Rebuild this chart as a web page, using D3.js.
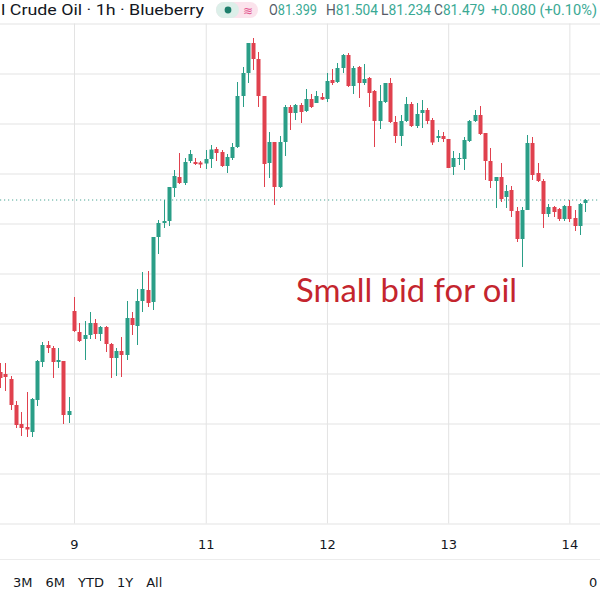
<!DOCTYPE html>
<html><head><meta charset="utf-8">
<script src="https://cdn.jsdelivr.net/npm/d3@7"></script>
<style>html,body{margin:0;padding:0;background:#fff;overflow:hidden}</style>
</head><body><svg id="c" width="600" height="600"></svg>
<script>
// ---- data (hourly candles) ----
const opens = [80.806,80.798,80.778,80.674,80.598,80.586,80.566,80.694,80.846,80.914,
 80.902,80.846,80.850,80.634,81.050,80.966,80.938,80.954,81.002,80.958,
 80.986,80.918,80.862,80.890,80.874,81.022,80.990,81.090,81.134,81.086,
 81.346,81.402,81.410,81.542,81.586,81.562,81.650,81.646,81.644,81.640,
 81.658,81.698,81.686,81.630,81.662,81.706,81.910,82.002,82.122,82.058,
 81.910,81.642,81.726,81.546,81.726,81.866,81.842,81.874,81.850,81.898,
 81.882,81.906,81.898,81.974,81.966,82.022,82.074,81.950,82.026,81.962,
 81.982,81.930,81.810,81.886,81.962,81.806,81.750,81.810,81.878,81.790,
 81.842,81.854,81.814,81.742,81.750,81.738,81.626,81.658,81.658,81.730,
 81.810,81.834,81.762,81.650,81.570,81.586,81.506,81.534,81.450,81.338,
 81.454,81.722,81.602,81.570,81.438,81.466,81.458,81.418,81.470,81.422,
 81.390,81.482];
const highs = [80.842,80.842,80.790,80.690,80.646,80.726,80.702,80.854,80.926,80.930,
 80.910,80.902,80.850,80.706,81.106,81.002,81.010,81.046,81.018,80.990,
 80.990,80.922,80.902,80.946,81.090,81.046,81.138,81.206,81.210,81.346,
 81.414,81.494,81.546,81.614,81.682,81.662,81.694,81.662,81.650,81.694,
 81.714,81.706,81.694,81.678,81.722,81.966,82.026,82.122,82.142,82.086,
 81.910,81.766,81.726,81.750,81.874,81.874,81.878,81.882,81.938,81.918,
 81.930,81.922,82.002,82.018,82.042,82.078,82.082,82.030,82.030,82.038,
 81.986,81.934,81.954,81.962,81.982,81.830,81.834,81.906,81.886,81.882,
 81.894,81.862,81.822,81.774,81.766,81.738,81.690,81.682,81.746,81.814,
 81.854,81.870,81.762,81.702,81.586,81.642,81.554,81.550,81.466,81.466,
 81.754,81.746,81.642,81.578,81.478,81.470,81.462,81.474,81.494,81.454,
 81.482,81.498];
const lows = [80.742,80.730,80.654,80.582,80.550,80.546,80.546,80.670,80.826,80.882,
 80.782,80.822,80.598,80.602,80.966,80.926,80.854,80.938,80.938,80.930,
 80.886,80.782,80.790,80.786,80.854,80.954,80.914,81.046,81.066,81.054,
 81.278,81.382,81.390,81.506,81.558,81.554,81.642,81.634,81.622,81.618,
 81.622,81.650,81.626,81.602,81.654,81.702,81.866,81.962,82.014,81.866,
 81.546,81.582,81.474,81.542,81.670,81.774,81.814,81.802,81.846,81.862,
 81.882,81.894,81.886,81.954,81.962,82.002,81.946,81.918,81.902,81.954,
 81.866,81.706,81.778,81.882,81.802,81.722,81.710,81.806,81.786,81.782,
 81.782,81.798,81.714,81.726,81.726,81.622,81.594,81.634,81.614,81.726,
 81.806,81.754,81.574,81.542,81.462,81.486,81.462,81.426,81.326,81.226,
 81.454,81.574,81.566,81.382,81.426,81.426,81.410,81.410,81.406,81.370,
 81.354,81.446];
const closes = [80.782,80.786,80.674,80.594,80.582,80.576,80.698,80.850,80.914,80.902,
 80.846,80.854,80.634,80.650,80.970,80.930,80.954,81.002,80.958,80.986,
 80.918,80.862,80.890,80.874,81.022,80.994,81.090,81.138,81.082,81.346,
 81.402,81.410,81.546,81.590,81.562,81.646,81.678,81.638,81.636,81.658,
 81.696,81.682,81.630,81.666,81.706,81.910,82.002,82.122,82.058,81.910,
 81.638,81.726,81.546,81.726,81.866,81.842,81.874,81.846,81.898,81.866,
 81.910,81.896,81.970,81.962,82.022,82.074,81.950,82.022,81.962,81.978,
 81.922,81.810,81.890,81.962,81.806,81.750,81.810,81.878,81.790,81.838,
 81.854,81.810,81.724,81.750,81.738,81.622,81.662,81.662,81.734,81.810,
 81.834,81.758,81.650,81.570,81.586,81.498,81.530,81.450,81.338,81.454,
 81.722,81.594,81.570,81.438,81.466,81.446,81.418,81.470,81.418,81.390,
 81.478,81.494];
const dayTickIndex = [14, 39, 62, 85, 108];
const dayTickLabels = ["9", "11", "12", "13", "14"];
const priceGrid = [80.2, 80.4, 80.6, 80.8, 81.0, 81.2, 81.4, 81.6, 81.8, 82.0, 82.2];
const rangeButtons = ["3M", "6M", "YTD", "1Y", "All"];
const titleText = "l Crude Oil · 1h · Blueberry";
const ohlcLetters = ["O", "H", "L", "C"];
const ohlcValues = ["81.399", "81.504", "81.234", "81.479"];
const changeText = "+0.080 (+0.10%)";
const noteText = "Small bid for oil";

// ---- drawing ----
const W = 600, H = 600;
const UP = "#2a9e87", DOWN = "#e0414e", GRID = "#e3e3e3", TXT = "#131722", TEAL = "#3aa994";
const svg = d3.select("#c");
const candles = d3.range(opens.length).map(i => ({i, o: opens[i], h: highs[i], l: lows[i], c: closes[i]}));

const x = d3.scaleLinear().domain([0, opens.length - 1]).range([0.2, 585.2]);
const y = d3.scaleLinear().domain([80.2, 82.294]).range([523.5, 0]);

// horizontal grid
const gy = svg.append("g").call(d3.axisRight(y).tickValues(priceGrid).tickSize(W).tickFormat(""));
gy.select(".domain").remove();
gy.selectAll("line").attr("stroke", GRID);

// vertical grid
const gx = svg.append("g").attr("transform", "translate(0,23.5)")
  .call(d3.axisBottom(x).tickValues(dayTickIndex).tickSize(500).tickFormat(""));
gx.select(".domain").remove();
gx.selectAll("line").attr("stroke", GRID);

// time labels
const lx = svg.append("g").attr("transform", "translate(0,523.5)")
  .call(d3.axisBottom(x).tickValues(dayTickIndex).tickSize(0).tickPadding(16)
    .tickFormat((d, k) => dayTickLabels[k]));
lx.select(".domain").remove();
lx.selectAll("text").attr("fill", TXT).attr("font-family", "DejaVu Sans").attr("font-size", 13);

// last price dotted line
svg.append("line").attr("x1", 0).attr("x2", W)
  .attr("y1", y(closes[closes.length - 1])).attr("y2", y(closes[closes.length - 1]))
  .attr("stroke", "#4aa595").attr("stroke-width", 1).attr("stroke-dasharray", "1.2,2.8");

// candles
const cg = svg.append("g");
cg.selectAll("line.w").data(candles).join("line").attr("class", "w")
  .attr("x1", d => Math.round(x(d.i)) + 0.5).attr("x2", d => Math.round(x(d.i)) + 0.5)
  .attr("y1", d => y(d.h)).attr("y2", d => y(d.l))
  .attr("stroke", d => d.c >= d.o ? UP : DOWN).attr("stroke-width", 1);
cg.selectAll("rect.b").data(candles).join("rect").attr("class", "b")
  .attr("x", d => Math.round(x(d.i)) + 0.5 - 2).attr("width", 4)
  .attr("y", d => y(Math.max(d.o, d.c)))
  .attr("height", d => Math.max(1, Math.abs(y(d.o) - y(d.c))))
  .attr("fill", d => d.c >= d.o ? UP : DOWN);

// header (kept fully inside the page)
const HY = 15;
svg.append("text").attr("x", 1).attr("y", HY).attr("font-family", "Roboto").attr("font-size", 15)
  .attr("fill", TXT).attr("textLength", 203).attr("lengthAdjust", "spacingAndGlyphs").text(titleText);
svg.append("rect").attr("x", 216).attr("y", 2).attr("width", 42).attr("height", 16).attr("rx", 8)
  .attr("fill", "#fbe3ec");
svg.append("rect").attr("x", 216).attr("y", 2).attr("width", 23).attr("height", 16).attr("rx", 8)
  .attr("fill", "#dcefe9");
svg.append("circle").attr("cx", 228).attr("cy", 10).attr("r", 3.4).attr("fill", "#1d7f6c");
svg.append("text").attr("x", 248).attr("y", 14.5).attr("text-anchor", "middle")
  .attr("font-family", "DejaVu Sans").attr("font-size", 12).attr("fill", "#e2558f").text("≋");

const ohlcStarts = [269, 326, 381, 434];
const ohlcWidths = [48, 52, 50, 51];
ohlcLetters.forEach((L, k) => {
  const t = svg.append("text").attr("x", ohlcStarts[k]).attr("y", HY)
    .attr("font-family", "Roboto").attr("font-size", 14)
    .attr("textLength", ohlcWidths[k]).attr("lengthAdjust", "spacingAndGlyphs");
  t.append("tspan").attr("fill", "#555a66").text(L);
  t.append("tspan").attr("fill", TEAL).text(ohlcValues[k]);
});
svg.append("text").attr("x", 491).attr("y", HY).attr("font-family", "Roboto").attr("font-size", 14)
  .attr("fill", TEAL).attr("textLength", 106).attr("lengthAdjust", "spacingAndGlyphs").text(changeText);

// annotation
svg.append("text").attr("x", 296).attr("y", 302).attr("font-family", "Lato").attr("font-size", 32)
  .attr("fill", "#c4252e").attr("textLength", 221).attr("lengthAdjust", "spacingAndGlyphs").text(noteText);

// bottom bar
svg.append("line").attr("x1", 0).attr("x2", W).attr("y1", 559.5).attr("y2", 559.5).attr("stroke", "#ececec");
let bx = 13;
rangeButtons.forEach(lbl => {
  const t = svg.append("text").attr("x", bx).attr("y", 587).attr("font-family", "DejaVu Sans")
    .attr("font-size", 13).attr("fill", TXT).text(lbl);
  bx += t.node().getComputedTextLength() + 13;
});
svg.append("text").attr("x", 589).attr("y", 587).attr("font-family", "DejaVu Sans")
  .attr("font-size", 13).attr("fill", TXT).text("0");
</script></body></html>
